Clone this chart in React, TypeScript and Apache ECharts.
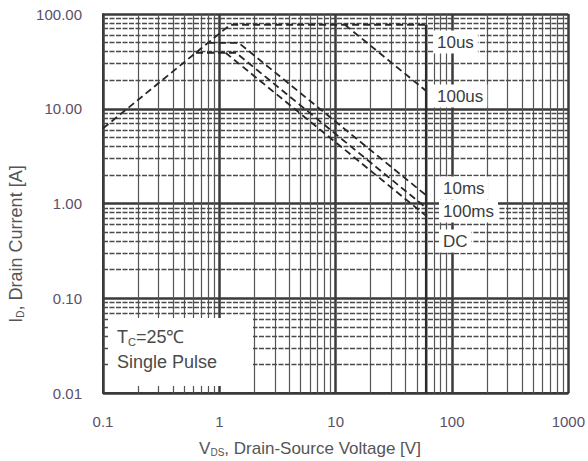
import React, { useEffect, useRef } from "react";
import * as echarts from "echarts";

// Tick labels
const xTickLabels = ["0.1", "1", "10", "100", "1000"];
const yTickLabels = ["0.01", "0.10", "1.00", "10.00", "100.00"];

// Minor grid (log decades x multipliers 2..9)
const xDecades = [0.1, 1, 10, 100];
const yDecades = [0.01, 0.1, 1, 10];
const minorMultipliers = [2, 3, 4, 5, 6, 7, 8, 9];

// SOA boundary curves: V (VDS, volts) and I (ID, amps)
const topV = [0.1, 1.24, 60];
const topI = [6.2, 77, 77];
const us10V = [12, 60];
const us10I = [77, 15.4];
const us100V = [0.8, 1.47, 60];
const us100I = [49.5, 49.5, 1.22];
const ms10V = [0.63, 1.39, 60];
const ms10I = [39, 39, 0.9];
const dcV = [1.13, 60];
const dcI = [39, 0.74];
const bvdssV = [60, 60];
const bvdssI = [77, 0.01];

const zip = (v: number[], i: number[]) => v.map((x, k) => [x, i[k]]);

const FONT = "'Liberation Sans', Arial, sans-serif";

export default function App() {
  const ref = useRef<HTMLDivElement>(null);
  useEffect(() => {
    document.body.style.margin = "0";
    const chart = echarts.init(ref.current!, null, { renderer: "svg" });
    const dashStyle = { type: [7, 4] as any, width: 1.8, color: "#262626" };
    const curve = (name: string, v: number[], i: number[]) => ({
      name,
      type: "line",
      data: zip(v, i),
      symbol: "none",
      z: 5,
      lineStyle: dashStyle,
    });
    const xMinor: number[] = [];
    xDecades.forEach((d) => minorMultipliers.forEach((m) => xMinor.push(+(d * m).toPrecision(3))));
    const yMinor: number[] = [];
    yDecades.forEach((d) => minorMultipliers.forEach((m) => yMinor.push(+(d * m).toPrecision(3))));

    const labelText = (text: string, x: number, y: number) => ({
      type: "text",
      x,
      y,
      z: 100,
      style: {
        text,
        fontFamily: FONT,
        fontSize: 17,
        fill: "#3c3c3c",
        backgroundColor: "#fff",
        padding: [3, 4, 3, 4],
        verticalAlign: "middle",
        align: "left",
      },
    });

    chart.setOption({
      animation: false,
      backgroundColor: "#fff",
      grid: { left: 103, top: 14, right: 19, bottom: 68 },
      xAxis: {
        type: "log",
        logBase: 10,
        min: 0.1,
        max: 1000,
        axisLine: { show: true, lineStyle: { color: "#3a3a3a", width: 2 } },
        axisTick: { show: false },
        splitLine: { show: true, lineStyle: { color: "#3a3a3a", width: 2.5 } },
        axisLabel: {
          margin: 21,
          fontSize: 15,
          fontFamily: FONT,
          color: "#5a5068",
          formatter: (v: number) => xTickLabels[Math.round(Math.log10(v)) + 1] ?? "",
        },
      },
      yAxis: {
        type: "log",
        logBase: 10,
        min: 0.01,
        max: 100,
        axisLine: { show: true, lineStyle: { color: "#3a3a3a", width: 2 } },
        axisTick: { show: false },
        splitLine: { show: true, lineStyle: { color: "#3a3a3a", width: 2.5 } },
        axisLabel: {
          margin: 21,
          fontSize: 15,
          fontFamily: FONT,
          color: "#5a5068",
          formatter: (v: number) => yTickLabels[Math.round(Math.log10(v)) + 2] ?? "",
        },
      },
      series: [
        {
          type: "line",
          data: [],
          z: 1,
          silent: true,
          markLine: {
            silent: true,
            symbol: ["none", "none"],
            label: { show: false },
            lineStyle: { color: "#555", width: 1.2, type: "solid" },
            emphasis: { disabled: true },
            data: [
              ...xMinor.map((v) => ({ xAxis: v })),
              ...yMinor.map((v) => ({
                yAxis: v,
                lineStyle: { color: "#4a4a4a", width: 1.3, type: [5, 1.5] },
              })),
            ],
          },
        },
        curve("limit", topV, topI),
        curve("10us", us10V, us10I),
        curve("100us", us100V, us100I),
        curve("10ms", ms10V, ms10I),
        curve("DC", dcV, dcI),
        {
          name: "BVDSS",
          type: "line",
          data: zip(bvdssV, bvdssI),
          symbol: "none",
          z: 6,
          lineStyle: { type: "solid", width: 2.5, color: "#2a2a2a" },
        },
      ],
      graphic: [
        labelText("10us", 433, 42),
        labelText("100us", 433, 96),
        labelText("10ms", 439, 188),
        labelText("100ms", 439, 211),
        labelText("DC", 439, 241),
        {
          type: "rect",
          z: 99,
          shape: { x: 108, y: 318, width: 145, height: 68 },
          style: { fill: "#fff" },
        },
        {
          type: "text",
          x: 117,
          y: 337,
          z: 100,
          style: {
            text: "{m|T}{s|C}{m|=25℃}",
            fontFamily: FONT,
            verticalAlign: "middle",
            fill: "#4a4a4a",
            rich: {
              m: { fontSize: 18, fontFamily: FONT, fill: "#4a4a4a" },
              s: { fontSize: 11, fontFamily: FONT, fill: "#4a4a4a", padding: [9, 0, 0, 0] },
            },
          },
        },
        {
          type: "text",
          x: 117,
          y: 362,
          z: 100,
          style: {
            text: "Single Pulse",
            fontFamily: FONT,
            fontSize: 18,
            verticalAlign: "middle",
            fill: "#4a4a4a",
          },
        },
        {
          type: "text",
          x: 310,
          y: 448,
          z: 100,
          style: {
            text: "{m|V}{s|DS}{m|, Drain-Source Voltage [V]}",
            fontFamily: FONT,
            align: "center",
            verticalAlign: "middle",
            fill: "#555",
            rich: {
              m: { fontSize: 17, fontFamily: FONT, fill: "#555" },
              s: { fontSize: 10, fontFamily: FONT, fill: "#555", padding: [9, 0, 0, 0] },
            },
          },
        },
        {
          type: "text",
          x: 16,
          y: 244,
          rotation: Math.PI / 2,
          z: 100,
          style: {
            text: "{m|I}{s|D}{m|, Drain Current [A]}",
            fontFamily: FONT,
            align: "center",
            verticalAlign: "middle",
            fill: "#555",
            rich: {
              m: { fontSize: 18, fontFamily: FONT, fill: "#555" },
              s: { fontSize: 10, fontFamily: FONT, fill: "#555", padding: [9, 0, 0, 0] },
            },
          },
        },
      ],
    });
    return () => chart.dispose();
  }, []);
  return <div ref={ref} style={{ width: 588, height: 461 }} />;
}
